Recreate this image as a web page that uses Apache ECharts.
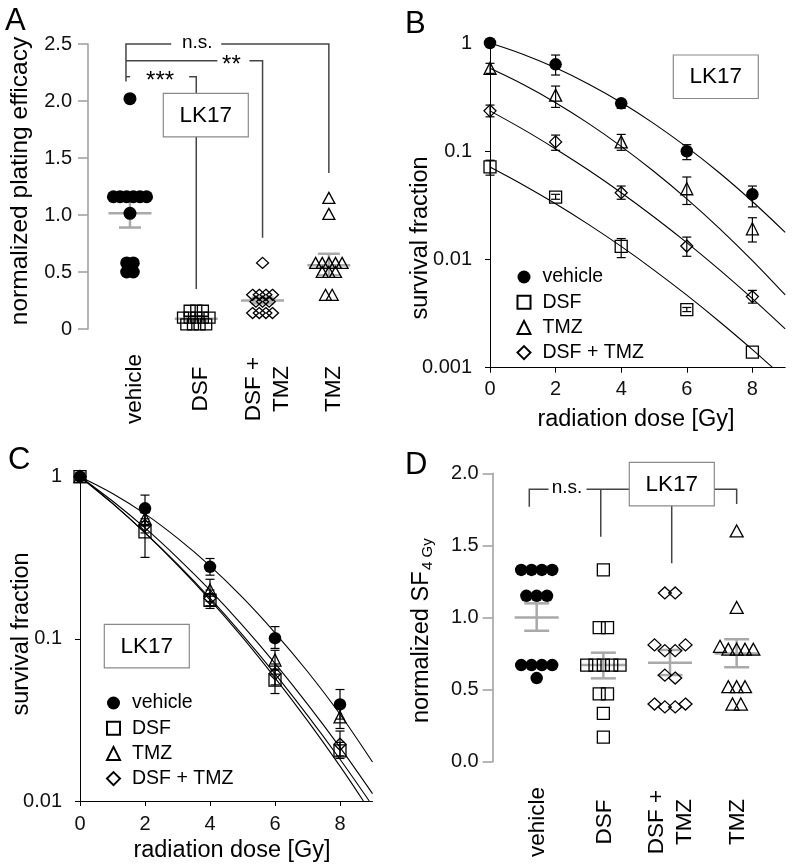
<!DOCTYPE html>
<html><head><meta charset="utf-8">
<script src="https://cdn.jsdelivr.net/npm/echarts@6/dist/echarts.min.js"></script>
<style>html,body{margin:0;padding:0;background:#fff}#c{width:796px;height:865px}</style>
</head><body><div id="c"></div>
<script>
const FONT = '"Liberation Sans", Arial, Helvetica, sans-serif';

// ---------- Panel A : normalized plating efficacy ----------
const catLabels = ['vehicle', 'DSF', 'DSF +\nTMZ', 'TMZ'];
const aVehicle = [2.02, 1.16, 1.16, 1.16, 1.16, 1.16, 1.16, 1.015, 0.58, 0.58, 0.50, 0.50];
const aDSF = [0.16, 0.16, 0.16, 0.10, 0.10, 0.10, 0.10, 0.10, 0.04, 0.04, 0.04, 0.04];
const aDSFTMZ = [0.58, 0.30, 0.30, 0.30, 0.30, 0.24, 0.24, 0.24, 0.14, 0.14, 0.14, 0.14];
const aTMZ = [1.15, 1.01, 0.58, 0.58, 0.58, 0.58, 0.58, 0.50, 0.50, 0.50, 0.30, 0.30];
const aMean = [1.015, 0.09, 0.25, 0.56];
const aSemLo = [0.89, 0.075, 0.225, 0.47];
const aSemHi = [1.13, 0.105, 0.275, 0.66];
const aYTicks = [0, 0.5, 1.0, 1.5, 2.0, 2.5];

// ---------- Panel B : survival fraction (absolute) ----------
const doses = [0, 2, 4, 6, 8];
const bVehicle = [1.0, 0.635, 0.277, 0.100, 0.040];
const bVehicleLo = [null, 0.506, 0.249, 0.0836, 0.0306];
const bVehicleHi = [null, 0.774, 0.301, 0.115, 0.0477];
const bDSF = [0.0716, 0.0377, 0.0132, 0.00344, 0.00139];
const bDSFLo = [0.0601, 0.0360, 0.0104, 0.0033, null];
const bDSFHi = [0.0826, 0.0400, 0.0156, 0.0036, null];
const bTMZ = [0.583, 0.330, 0.122, 0.045, 0.0192];
const bTMZLo = [0.524, 0.254, 0.102, 0.0322, 0.0145];
const bTMZHi = [0.649, 0.400, 0.143, 0.0578, 0.0243];
const bDT = [0.236, 0.122, 0.0414, 0.0133, 0.00454];
const bDTLo = [0.208, 0.102, 0.0360, 0.0107, 0.00395];
const bDTHi = [0.267, 0.141, 0.0477, 0.0161, 0.00518];
const fitDoses = [0, 1, 2, 3, 4, 5, 6, 7, 8, 9];
const bFitVehicle = [1.0, 0.788, 0.590, 0.418, 0.282, 0.180, 0.109, 0.0629, 0.0343, 0.0178];
const bFitTMZ = [0.583, 0.415, 0.281, 0.181, 0.111, 0.065, 0.0363, 0.0193, 0.00975, 0.0047];
const bFitDT = [0.236, 0.160, 0.105, 0.0671, 0.0414, 0.0247, 0.0143, 0.0080, 0.00434, 0.00228];
const bFitDSFDoses = [0, 1, 2, 3, 4, 5, 6, 7, 8, 8.62];
const bFitDSF = [0.0716, 0.0491, 0.0327, 0.0211, 0.0132, 0.00798, 0.00468, 0.00266, 0.00147, 0.001];
const xTicks = [0, 2, 4, 6, 8];

// ---------- Panel C : survival fraction (normalized) ----------
const cVehicle = [1, 0.638, 0.278, 0.101, 0.0394];
const cVehicleLo = [null, 0.529, 0.247, 0.0873, 0.032];
const cVehicleHi = [null, 0.77, 0.313, 0.119, 0.0487];
const cDSF = [1, 0.457, 0.173, 0.0556, 0.0204];
const cDSFLo = [null, 0.318, 0.154, 0.046, 0.0183];
const cDSFHi = [null, 0.60, 0.19, 0.065, 0.023];
const cTMZ = [1, 0.553, 0.200, 0.074, 0.033];
const cTMZLo = [null, 0.50, 0.17, 0.064, 0.028];
const cTMZHi = [null, 0.60, 0.233, 0.085, 0.038];
const cDT = [1, 0.50, 0.178, 0.061, 0.0224];
const cDTLo = [null, 0.45, 0.16, 0.052, 0.019];
const cDTHi = [null, 0.55, 0.20, 0.070, 0.027];
const cFitVehicle = [1, 0.788, 0.590, 0.418, 0.282, 0.180, 0.109, 0.0629, 0.0343, 0.0174];
const cFitTMZ = [1, 0.708, 0.483, 0.316, 0.1995, 0.121, 0.0706, 0.0396, 0.0214, 0.0111];
const cFitDSFDoses = [0, 1, 2, 3, 4, 5, 6, 7, 8, 8.72];
const cFitDSF = [1, 0.684, 0.450, 0.285, 0.174, 0.102, 0.0575, 0.0313, 0.0164, 0.01];
const cFitDTDoses = [0, 1, 2, 3, 4, 5, 6, 7, 8, 8.9];
const cFitDT = [1, 0.684, 0.452, 0.2886, 0.178, 0.1058, 0.0608, 0.0337, 0.0181, 0.01];

// ---------- Panel D : normalized SF 4 Gy ----------
const dVehicle = [1.33, 1.33, 1.33, 1.33, 1.15, 1.15, 1.15, 0.67, 0.67, 0.67, 0.67, 0.58];
const dDSF = [1.33, 0.93, 0.93, 0.67, 0.67, 0.67, 0.67, 0.67, 0.47, 0.47, 0.335, 0.17];
const dDSFTMZ = [1.17, 1.17, 0.81, 0.77, 0.77, 0.81, 0.60, 0.58, 0.40, 0.38, 0.38, 0.40];
const dTMZ = [1.60, 1.07, 0.80, 0.78, 0.78, 0.78, 0.78, 0.52, 0.52, 0.52, 0.40, 0.40];
const dMean = [1.0, 0.671, 0.687, 0.75];
const dSemLo = [0.908, 0.578, 0.601, 0.655];
const dSemHi = [1.098, 0.756, 0.775, 0.849];
const dYTicks = [0, 0.5, 1.0, 1.5, 2.0];

// ---------------- helpers ----------------
const OPEN = { color: 'rgba(0,0,0,0)', borderColor: '#000', borderWidth: 1.3, opacity: 1 };
const FILLED = { color: '#000', opacity: 1 };

function swarm(values, cat, spacing, tol) {
  const out = [];
  let i = 0;
  while (i < values.length) {
    let j = i + 1;
    while (j < values.length && Math.abs(values[j] - values[i]) <= tol) j++;
    const n = j - i;
    for (let k = 0; k < n; k++) out.push([cat + (k - (n - 1) / 2) * spacing, values[i + k]]);
    i = j;
  }
  return out;
}

function scatter(name, data, symbol, size, gi, style, z) {
  return {
    type: 'scatter', name, xAxisIndex: gi, yAxisIndex: gi, data, symbol, symbolSize: size,
    itemStyle: style, z, clip: false, silent: true, animation: false,
    emphasis: { disabled: true }
  };
}

function semSeries(gi, means, lo, hi, meanHalf, capHalf) {
  return {
    type: 'custom', xAxisIndex: gi, yAxisIndex: gi, z: 1, silent: true, clip: false,
    data: means.map((m, i) => [i + 1, m, lo[i], hi[i]]),
    encode: { x: 0, y: [1, 2, 3] },
    renderItem(params, api) {
      const x = api.value(0);
      const pm = api.coord([x, api.value(1)]);
      const pl = api.coord([x, api.value(2)]);
      const ph = api.coord([x, api.value(3)]);
      const st = { stroke: '#a9a9a9', lineWidth: 2.5 };
      return {
        type: 'group', children: [
          { type: 'line', shape: { x1: pm[0] - meanHalf, y1: pm[1], x2: pm[0] + meanHalf, y2: pm[1] }, style: st },
          { type: 'line', shape: { x1: pl[0], y1: pl[1], x2: ph[0], y2: ph[1] }, style: st },
          { type: 'line', shape: { x1: pl[0] - capHalf, y1: pl[1], x2: pl[0] + capHalf, y2: pl[1] }, style: st },
          { type: 'line', shape: { x1: ph[0] - capHalf, y1: ph[1], x2: ph[0] + capHalf, y2: ph[1] }, style: st }
        ]
      };
    }
  };
}

function errSeries(gi, xs, lo, hi) {
  const data = [];
  xs.forEach((x, i) => { if (lo[i] != null && hi[i] != null) data.push([x, lo[i], hi[i]]); });
  return {
    type: 'custom', xAxisIndex: gi, yAxisIndex: gi, z: 2, silent: true, clip: false, data,
    encode: { x: 0, y: [1, 2] },
    renderItem(params, api) {
      const x = api.value(0);
      const a = api.coord([x, api.value(1)]);
      const b = api.coord([x, api.value(2)]);
      const st = { stroke: '#000', lineWidth: 1.2 };
      const c = 4.5;
      return {
        type: 'group', children: [
          { type: 'line', shape: { x1: a[0], y1: a[1], x2: b[0], y2: b[1] }, style: st },
          { type: 'line', shape: { x1: a[0] - c, y1: a[1], x2: a[0] + c, y2: a[1] }, style: st },
          { type: 'line', shape: { x1: b[0] - c, y1: b[1], x2: b[0] + c, y2: b[1] }, style: st }
        ]
      };
    }
  };
}

function fitLine(gi, xs, ys) {
  return {
    type: 'line', xAxisIndex: gi, yAxisIndex: gi, data: xs.map((x, i) => [x, ys[i]]),
    symbol: 'none', showSymbol: false, smooth: 0.35, clip: false, silent: true, z: 1,
    lineStyle: { color: '#000', width: 1.1 }
  };
}

const grayAxis = { show: true, onZero: false, lineStyle: { color: '#a3a3a3', width: 1.6 } };
const grayTick = { show: true, length: 10, lineStyle: { color: '#a3a3a3', width: 1.6 } };
const blackAxis = { show: true, onZero: false, lineStyle: { color: '#000', width: 1 } };
const blackTick = { show: true, length: 5, lineStyle: { color: '#000', width: 1 } };
const lbl = { fontSize: 20, color: '#111', fontFamily: FONT };
const logFmt = v => String(+(+v).toPrecision(2));

const legendBase = {
  orient: 'vertical', itemWidth: 13, itemHeight: 13, itemGap: 5.2, selectedMode: false,
  symbolKeepAspect: true,
  data: ['vehicle', 'DSF', 'TMZ', 'DSF + TMZ'],
  textStyle: { fontSize: 19.5, lineHeight: 20, color: '#000', fontFamily: FONT, padding: [0, 0, 0, 7] }
};

const option = {
  animation: false,
  backgroundColor: '#fff',
  textStyle: { fontFamily: FONT },
  grid: [
    { left: 88, top: 44, width: 274, height: 285 },
    { left: 490, top: 43, width: 295.2, height: 324.7 },
    { left: 80, top: 476.7, width: 292.5, height: 324.3 },
    { left: 492.7, top: 473.3, width: 277.3, height: 288.4 }
  ],
  legend: [
    Object.assign({}, legendBase, { left: 511.5, top: 262 }),
    Object.assign({}, legendBase, { left: 101, top: 688 })
  ],
  xAxis: [
    { gridIndex: 0, type: 'value', min: 0.3668, max: 4.5, show: false },
    { gridIndex: 1, type: 'value', min: 0, max: 9, axisLine: blackAxis,
      axisTick: Object.assign({ customValues: xTicks }, blackTick),
      axisLabel: Object.assign({ customValues: xTicks, margin: 12 }, lbl), splitLine: { show: false } },
    { gridIndex: 2, type: 'value', min: 0, max: 9, axisLine: blackAxis,
      axisTick: Object.assign({ customValues: xTicks }, blackTick),
      axisLabel: Object.assign({ customValues: xTicks, margin: 13 }, lbl), splitLine: { show: false } },
    { gridIndex: 3, type: 'value', min: 0.34, max: 4.5, show: false }
  ],
  yAxis: [
    { gridIndex: 0, type: 'value', min: 0, max: 2.5, axisLine: grayAxis,
      axisTick: Object.assign({ customValues: aYTicks }, grayTick),
      axisLabel: Object.assign({ customValues: aYTicks, margin: 16, formatter: v => v === 0 ? '0' : v.toFixed(1) }, lbl),
      splitLine: { show: false } },
    { gridIndex: 1, type: 'log', logBase: 10, min: 0.001, max: 1, axisLine: blackAxis,
      axisTick: blackTick, minorTick: { show: false },
      axisLabel: Object.assign({ margin: 18, formatter: logFmt }, lbl), splitLine: { show: false } },
    { gridIndex: 2, type: 'log', logBase: 10, min: 0.01, max: 1, axisLine: blackAxis,
      axisTick: blackTick, minorTick: { show: false },
      axisLabel: Object.assign({ margin: 18, formatter: logFmt }, lbl), splitLine: { show: false } },
    { gridIndex: 3, type: 'value', min: 0, max: 2, axisLine: grayAxis,
      axisTick: Object.assign({ customValues: dYTicks }, grayTick),
      axisLabel: Object.assign({ customValues: dYTicks, margin: 14, formatter: v => v.toFixed(1) }, lbl),
      splitLine: { show: false } }
  ],
  series: [
    // Panel A
    semSeries(0, aMean, aSemLo, aSemHi, 21.5, 11),
    scatter('A vehicle', swarm(aVehicle, 1, 0.1, 0.05), 'circle', 13, 0, FILLED, 3),
    scatter('A DSF', swarm(aDSF, 2, 0.1, 0.05), 'rect', 11, 0, OPEN, 3),
    scatter('A DSF+TMZ', swarm(aDSFTMZ, 3, 0.1, 0.05), 'diamond', [12, 11], 0, OPEN, 3),
    scatter('A TMZ', swarm(aTMZ, 4, 0.1, 0.05), 'triangle', [12, 11], 0, OPEN, 3),
    // Panel B
    fitLine(1, fitDoses, bFitVehicle),
    fitLine(1, fitDoses, bFitTMZ),
    fitLine(1, fitDoses, bFitDT),
    fitLine(1, bFitDSFDoses, bFitDSF),
    errSeries(1, doses, bVehicleLo, bVehicleHi),
    errSeries(1, doses, bDSFLo, bDSFHi),
    errSeries(1, doses, bTMZLo, bTMZHi),
    errSeries(1, doses, bDTLo, bDTHi),
    scatter('vehicle', doses.map((d, i) => [d, bVehicle[i]]), 'circle', 12.5, 1, FILLED, 3),
    scatter('DSF', doses.map((d, i) => [d, bDSF[i]]), 'rect', 12, 1, OPEN, 3),
    scatter('DSF + TMZ', doses.map((d, i) => [d, bDT[i]]), 'diamond', 12, 1, OPEN, 3),
    scatter('TMZ', doses.map((d, i) => [d, bTMZ[i]]), 'triangle', 12, 1, OPEN, 3),
    // Panel C
    fitLine(2, fitDoses, cFitVehicle),
    fitLine(2, fitDoses, cFitTMZ),
    fitLine(2, cFitDSFDoses, cFitDSF),
    fitLine(2, cFitDTDoses, cFitDT),
    errSeries(2, doses, cVehicleLo, cVehicleHi),
    errSeries(2, doses, cDSFLo, cDSFHi),
    errSeries(2, doses, cTMZLo, cTMZHi),
    errSeries(2, doses, cDTLo, cDTHi),
    scatter('vehicle', doses.map((d, i) => [d, cVehicle[i]]), 'circle', 12.5, 2, FILLED, 3),
    scatter('DSF', doses.map((d, i) => [d, cDSF[i]]), 'rect', 12, 2, OPEN, 3),
    scatter('DSF + TMZ', doses.map((d, i) => [d, cDT[i]]), 'diamond', 12, 2, OPEN, 3),
    scatter('TMZ', doses.map((d, i) => [d, cTMZ[i]]), 'triangle', 12, 2, OPEN, 3),
    // Panel D
    semSeries(3, dMean, dSemLo, dSemHi, 22, 12.5),
    scatter('D vehicle', swarm(dVehicle, 1, 0.155, 0.05), 'circle', 12.5, 3, FILLED, 3),
    scatter('D DSF', swarm(dDSF, 2, 0.125, 0.05), 'rect', 12, 3, OPEN, 3),
    scatter('D DSF+TMZ', swarm(dDSFTMZ, 3, 0.155, 0.05), 'diamond', [13, 12], 3, OPEN, 3),
    scatter('D TMZ', swarm(dTMZ, 4, 0.125, 0.05), 'triangle', [13, 12], 3, OPEN, 3)
  ]
};

const chart = echarts.init(document.getElementById('c'), null, { renderer: 'canvas' });
chart.setOption(option);

// ---------------- annotations (layout) ----------------
const P = (g, x, y) => chart.convertToPixel({ gridIndex: g }, [x, y]);
const LINE = { stroke: '#454545', lineWidth: 1.5, fill: null };
const BOX = { fill: '#fff', stroke: '#8a8a8a', lineWidth: 1.2 };
const g = [];
function txt(x, y, text, fs, extra) {
  g.push(Object.assign({ type: 'text', x, y, z: 100,
    style: Object.assign({ text, fontSize: fs, fontFamily: FONT, fill: '#000', align: 'center', verticalAlign: 'middle' }, (extra && extra.style) || {}) },
    extra && extra.rotation ? { rotation: extra.rotation } : {}));
}
function poly(points) { g.push({ type: 'polyline', z: 90, shape: { points }, style: LINE }); }
function box(x, y) {
  g.push({ type: 'rect', z: 95, shape: { x, y, width: 85, height: 43.5 }, style: BOX });
  txt(x + 42.5, y + 22, 'LK17', 22.5);
}
const R = Math.PI / 2;

// panel letters
txt(5, 21, 'A', 31, { style: { align: 'left' } });
txt(405, 24, 'B', 31, { style: { align: 'left' } });
txt(8, 460, 'C', 31, { style: { align: 'left' } });
txt(405, 465, 'D', 31, { style: { align: 'left' } });

// axis titles
txt(20, 181, 'normalized plating efficacy', 24.5, { rotation: R });
txt(421, 238, 'survival fraction', 23.5, { rotation: R });
txt(636, 420, 'radiation dose [Gy]', 23.5);
txt(22, 634, 'survival fraction', 23.5, { rotation: R });
txt(232, 851, 'radiation dose [Gy]', 23.5);
txt(422, 723, 'normalized SF', 23.5, { rotation: R, style: { align: 'left' } });
txt(428, 570, '4 Gy', 15, { rotation: R, style: { align: 'left' } });

// category labels
[0, 1, 2, 3].forEach(i => {
  const xa = P(0, i + 1, 0)[0];
  txt(xa + 5, 389, catLabels[i], 22.5, { rotation: R, style: { lineHeight: 28 } });
  const xd = P(3, i + 1, 0)[0];
  txt(xd + 1, 822, catLabels[i], 22.5, { rotation: R, style: { lineHeight: 28 } });
});

// Panel A brackets
(function () {
  const xs = [1, 2, 3, 4].map(c => P(0, c, 0)[0]);
  const yv = v => P(0, 1, v)[1];
  const xV = xs[0] - 4;
  const yNS = yv(2.5), y2 = yv(2.354), y3 = yv(2.213);
  const nsX = xs[1] + 1, s2X = (xs[1] + xs[2]) / 2 + 2, s3X = (xs[0] + xs[1]) / 2 - 3;
  poly([[xV, yv(2.17)], [xV, yNS], [nsX - 26, yNS]]);
  poly([[nsX + 24, yNS], [xs[3], yNS], [xs[3], yv(1.368)]]);
  poly([[xV, y2], [s2X - 14, y2]]);
  poly([[s2X + 18, y2], [xs[2], y2], [xs[2], yv(0.80)]]);
  poly([[xV, y3], [s3X - 30, y3]]);
  poly([[s3X + 29, y3], [xs[1], y3], [xs[1], yv(0.351)]]);
  txt(nsX, yNS - 1.5, 'n.s.', 19);
  txt(s2X, y2 + 5, '**', 24);
  txt(s3X, y3 + 5, '***', 24);
  box(163.3, 93.3);
})();

// Panel B / C boxes
box(673.3, 55);
box(104.3, 624.3);

// Panel D brackets
(function () {
  const xs = [1, 2, 3, 4].map(c => P(3, c, 0)[0]);
  const yv = v => P(3, 1, v)[1];
  const yL = yv(1.889);
  const xV = xs[0] - 7.4;
  const nsX = (xs[0] + xs[1]) / 2 - 3;
  poly([[xV, yv(1.768)], [xV, yL], [nsX - 18.5, yL]]);
  poly([[nsX + 19.5, yL], [xs[3], yL], [xs[3], yv(1.787)]]);
  poly([[xs[1] - 2.6, yL], [xs[1] - 2.6, yv(1.56)]]);
  poly([[xs[2] + 1.7, yL], [xs[2] + 1.7, yv(1.376)]]);
  txt(nsX, yL - 1.5, 'n.s.', 19);
  box(629.3, 462.3);
})();

chart.setOption({ graphic: { elements: g } });
</script></body></html>
